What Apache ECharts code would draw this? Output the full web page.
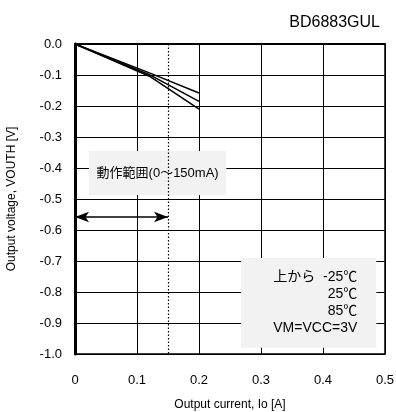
<!DOCTYPE html>
<html>
<head>
<meta charset="utf-8">
<script src="https://cdn.jsdelivr.net/npm/echarts@6/dist/echarts.min.js"></script>
<style>
html,body{margin:0;padding:0;background:#fff;}
#chart{width:396px;height:412px;}
</style>
</head>
<body>
<div id="chart"></div>
<script>
// Data
const xTicks = [0, 0.1, 0.2, 0.3, 0.4, 0.5];
const yTicks = [0, -0.1, -0.2, -0.3, -0.4, -0.5, -0.6, -0.7, -0.8, -0.9, -1.0];
const seriesNames = ['-25℃', '25℃', '85℃'];
const current = [0, 0.12, 0.2];
const voutM25 = [0, -0.093, -0.158];
const vout25  = [0, -0.099, -0.185];
const vout85  = [0, -0.104, -0.210];
const operatingLimit = 0.15;       // 150 mA
const arrowLevel = -0.558;
const rangeBox = [[0.0225, -0.345], [0.244, -0.487]];
const rangeText = '動作範囲(0～150mA)';
const legendBox = [[0.268, -0.69], [0.486, -0.98]];
const legendText = '上から  -25℃\n25℃\n85℃\nVM=VCC=3V';
const title = 'BD6883GUL';

const font = '"Liberation Sans", Arial, "Noto Sans CJK JP", sans-serif';
const chart = echarts.init(document.getElementById('chart'), null, {renderer: 'canvas'});

function pairs(xs, ys) { return xs.map((x, i) => [x, ys[i]]); }

const lineStyle = {color: '#000', width: 1.5};
const series = [
  {name: seriesNames[0], data: pairs(current, voutM25)},
  {name: seriesNames[1], data: pairs(current, vout25)},
  {name: seriesNames[2], data: pairs(current, vout85)}
].map(s => ({
  type: 'line', name: s.name, data: s.data, symbol: 'none', z: 6,
  lineStyle: lineStyle, itemStyle: {color: '#000'}, animation: false
}));

// dotted limit line + arrow
series.push({
  type: 'line', data: [], z: 3, animation: false,
  markLine: {
    silent: true, animation: false,
    label: {show: false},
    data: [
      [{coord: [operatingLimit, 0], symbol: 'none'}, {coord: [operatingLimit, -1], symbol: 'none',
        lineStyle: {type: [1.5, 2], color: '#000', width: 1.2}}],
      [{coord: [0, arrowLevel], symbol: 'arrow'}, {coord: [operatingLimit, arrowLevel], symbol: 'arrow',
        lineStyle: {type: 'solid', color: '#000', width: 1.5}}]
    ],
    symbolSize: [8, 14],
    lineStyle: {color: '#000'}
  }
});

// annotation boxes
series.push({
  type: 'line', data: [], z: 5, animation: false,
  markArea: {
    silent: true, animation: false,
    itemStyle: {color: '#f2f2f2'},
    data: [
      [{coord: rangeBox[0], label: {show: true, position: 'inside', formatter: rangeText,
         color: '#000', fontSize: 13, fontFamily: font}}, {coord: rangeBox[1]}],
      [{coord: legendBox[0], label: {show: true, position: 'insideRight', distance: 19, formatter: legendText,
         color: '#000', fontSize: 14, lineHeight: 17, align: 'right', fontFamily: font}}, {coord: legendBox[1]}]
    ]
  }
});

chart.setOption({
  animation: false,
  backgroundColor: '#fff',
  textStyle: {fontFamily: font},
  title: {text: title, right: 11, top: 10, textStyle: {fontSize: 16, fontWeight: 'normal', color: '#000', fontFamily: font}},
  grid: {left: 75, right: 11, top: 44, bottom: 58, show: true, borderColor: '#000', borderWidth: 1.5,
         containLabel: false, outerBoundsMode: 'none'},
  xAxis: {
    type: 'value', min: xTicks[0], max: xTicks[xTicks.length - 1], interval: 0.1,
    name: 'Output current, Io [A]', nameLocation: 'middle', nameGap: 45,
    nameTextStyle: {fontSize: 12, color: '#000', fontFamily: font},
    axisLine: {show: true, lineStyle: {color: '#000', width: 2}},
    axisTick: {show: false},
    axisLabel: {color: '#000', fontSize: 13, margin: 20, fontFamily: font,
      formatter: v => (Math.abs(v) < 1e-9 ? '0' : v.toFixed(1))},
    splitLine: {show: true, lineStyle: {color: '#000', width: 1}}
  },
  yAxis: {
    type: 'value', min: yTicks[yTicks.length - 1], max: yTicks[0], interval: 0.1,
    name: 'Output voltage, VOUTH [V]', nameLocation: 'middle', nameGap: 57, nameRotate: 90,
    nameTextStyle: {fontSize: 12, color: '#000', fontFamily: font},
    axisLine: {show: true, onZero: false, lineStyle: {color: '#000', width: 3}},
    axisTick: {show: false},
    axisLabel: {color: '#000', fontSize: 13, margin: 13, fontFamily: font,
      formatter: v => (Math.abs(v) < 1e-9 ? '0.0' : v.toFixed(1))},
    splitLine: {show: true, lineStyle: {color: '#000', width: 1}}
  },
  series: series
});
</script>
</body>
</html>
